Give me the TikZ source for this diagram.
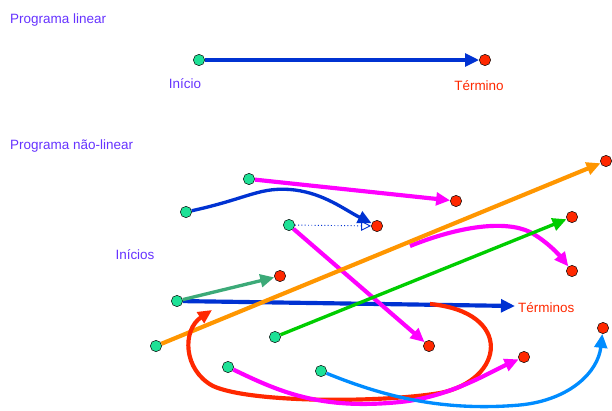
\documentclass[tikz,border=0pt]{standalone}
\usepackage{fontspec}
\setmainfont{Liberation Sans}
\usepackage{xcolor}
\usetikzlibrary{positioning, arrows.meta}

\definecolor{roxo}{RGB}{102,51,255}
\definecolor{verdeini}{RGB}{30,225,150}
\definecolor{vermfim}{RGB}{255,40,0}
\definecolor{azul}{RGB}{0,50,210}
\definecolor{rosa}{RGB}{255,0,255}
\definecolor{laranja}{RGB}{255,150,0}
\definecolor{verde}{RGB}{0,205,0}
\definecolor{turquesa}{RGB}{60,170,120}
\definecolor{azulclaro}{RGB}{0,140,255}

\begin{document}
\begin{tikzpicture} [x = 0.03cm, y = -0.03cm,
					ini/.style = {draw,
					    circle,
					    thin,
					    minimum size = 3.4mm,
					    inner sep = 0pt,
					    fill = verdeini},
					fim/.style = {ini, fill = vermfim},
					txt/.style = {font = \fontsize{11.5}{13}\selectfont,
					    text = roxo,
					    inner sep = 0pt},
					seta/.style = {line width = 1.25mm,
					    -{Triangle[length = 4.2mm, width = 3.8mm]}}]

					\useasboundingbox (0,0) rectangle (612,410);

					% programa linear
					\node [txt, anchor = west] (tlin) at (10,20) {Programa linear};
					\node (i0) at (199,60) [ini] {};
					\node (t0) at (485,60) [fim] {};
					\node [txt] (li0) at (185,84) {Início};
					\node [txt, text = vermfim] (lt0) at (479,86) {Término};
					\draw [seta, azul] (i0) -- (t0);

					% programa nao-linear
					\node [txt, anchor = west] (tnlin) at (10,146) {Programa não-linear};
					\node [txt] (lini) at (135,255) {Inícios};
					\node [txt, text = vermfim, anchor = west] (lfim) at (518,308) {Términos};

					\node (a1) at (249,179) [ini] {};
					\node (a2) at (186,212) [ini] {};
					\node (a3) at (289,225) [ini] {};
					\node (a4) at (177,301) [ini] {};
					\node (a5) at (156,346) [ini] {};
					\node (a6) at (275,337) [ini] {};
					\node (a7) at (228,367) [ini] {};
					\node (a8) at (321,371) [ini] {};

					\node (b1) at (456,201) [fim] {};
					\node (b2) at (377,226) [fim] {};
					\node (b3) at (280,276) [fim] {};
					\node (b4) at (606,161) [fim] {};
					\node (b5) at (572,217) [fim] {};
					\node (b6) at (572,271) [fim] {};
					\node (b7) at (429,346) [fim] {};
					\node (b8) at (524,357) [fim] {};
					\node (b9) at (603,328) [fim] {};

					\coordinate (cAzul) at (515,306);
					\coordinate (cRosa) at (410,246);
					\coordinate (cLaco) at (430,304);
					\coordinate (fLaco) at (212,310);

					\draw [seta, azul] (a4) -- (cAzul);
					\draw [seta, rosa] (a1) -- (b1);
					\draw [seta, azul, line width = 1mm] (a2) .. controls (250,198) and (260,186) .. (295,190)
					    .. controls (325,194) and (345,210) .. (b2);
					\draw [azul, dotted, thick, -{Triangle[open, length = 3mm, width = 3mm]}] (a3) -- (b2);
					\draw [seta, turquesa, line width = 1mm] (a4) -- (b3);
					\draw [seta, rosa] (a3) -- (b7);
					\draw [seta, rosa] (cRosa) .. controls (460,226) and (505,220) .. (530,232)
					    .. controls (548,242) and (560,256) .. (b6);
					\draw [seta, laranja] (a5) -- (b4);
					\draw [seta, verde, line width = 1mm] (a6) -- (b5);
					\draw [seta, vermfim] (cLaco) .. controls (514,312) and (505,380) .. (440,393)
					    .. controls (380,403) and (250,403) .. (213,386)
					    .. controls (183,370) and (182,330) .. (fLaco);
					\draw [seta, rosa] (a7) .. controls (280,392) and (320,410) .. (400,402)
					    .. controls (450,397) and (490,372) .. (b8);
					\draw [seta, azulclaro, line width = 1mm] (a8) .. controls (380,395) and (440,412) .. (520,405)
					    .. controls (570,400) and (598,372) .. (b9);
				\end{tikzpicture}
\end{document}
